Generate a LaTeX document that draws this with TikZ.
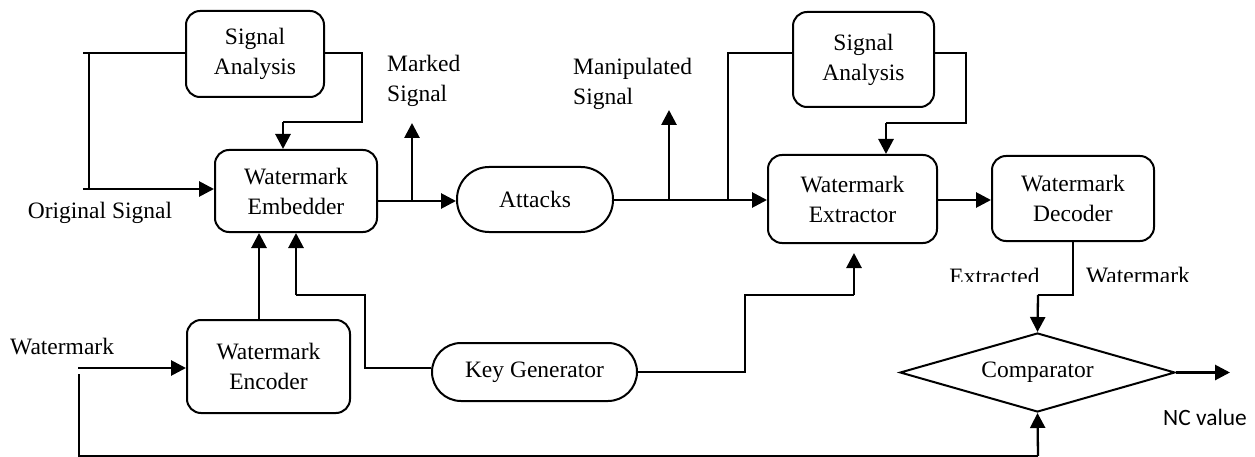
\documentclass[tikz,border=0pt]{standalone}
\usepackage{fontspec}
\setmainfont{Liberation Serif}
\newfontfamily\ncfont{Carlito}
\usetikzlibrary{arrows.meta,shapes.geometric}
\begin{document}
\begin{tikzpicture}[x=1pt,y=-1pt,
  txt/.style={font=\fontsize{23.5}{30}\selectfont},
  box/.style={draw, line width=2pt, rounded corners=14pt, inner sep=0pt, align=center, txt},
  pill/.style={draw, line width=2pt, rounded corners=#1, inner sep=0pt, align=center, txt},
  conn/.style={line width=2.8pt},
  thin/.style={line width=2.3pt},
  arr/.style={conn, -{Triangle[length=15pt,width=15pt]}},
  lbl/.style={inner sep=0pt, txt, align=left}
]
\useasboundingbox (0,0) rectangle (1255,457);

% nodes
\node[box, minimum width=138pt, minimum height=86pt] (sa1) at (255,54) {Signal\\Analysis};
\node[box, minimum width=162pt, minimum height=82pt] (emb) at (296,191) {Watermark\\Embedder};
\node[pill=32pt, minimum width=156pt, minimum height=65pt] (att) at (535,199.5) {Attacks};
\node[box, minimum width=141pt, minimum height=95pt] (sa2) at (863.5,59.5) {Signal\\Analysis};
\node[box, minimum width=169pt, minimum height=88pt] (ext) at (852.5,199) {Watermark\\Extractor};
\node[box, minimum width=162pt, minimum height=85pt] (dec) at (1073,198.5) {Watermark\\Decoder};
\node[box, minimum width=163pt, minimum height=93pt] (enc) at (268.5,366.5) {Watermark\\Encoder};
\node[pill=29pt, minimum width=205pt, minimum height=58pt] (key) at (534.5,372) {Key Generator};
\node[draw, diamond, line width=2pt, inner sep=0pt, aspect=3.48, minimum width=275pt, minimum height=79pt, txt] (cmp) at (1037.5,372.5) {Comparator};

% labels
\node[lbl] (lorig) at (100,213) {Original Signal};
\node[lbl, anchor=west] (lmark) at (387,81) {Marked\\Signal};
\node[lbl, anchor=west] (lmanip) at (573,84) {Manipulated\\Signal};
\node[lbl, anchor=west] (lwm) at (10,347) {Watermark};
\node[inner sep=0pt, font=\ncfont\fontsize{23.4}{28}\selectfont] (lnc) at (1205,417) {NC value};
\begin{scope}
\clip (930,255) rectangle (1210,281);
\node[lbl] (lextr) at (994.5,276) {Extracted};
\node[lbl] (lwm2) at (1138,276) {Watermark};
\end{scope}

% coordinates
\coordinate (o1) at (83,53);
\coordinate (j1) at (89,53);
\coordinate (j2) at (89,189);
\coordinate (o2) at (83,189);
\coordinate (r1) at (362,53);
\coordinate (r2) at (362,122);
\coordinate (r3) at (283,122);
\coordinate (m1) at (412,201);
\coordinate (m2) at (412,123);
\coordinate (a1) at (669,200);
\coordinate (a2) at (669,110);
\coordinate (b1) at (728,200);
\coordinate (b2) at (728,53);
\coordinate (s1) at (966,53);
\coordinate (s2) at (966,123);
\coordinate (s3) at (886,123);
\coordinate (e1) at (0,200);
\coordinate (d1) at (1073,295);
\coordinate (d2) at (1038,295);
\coordinate (n1) at (1230,372.5);
\coordinate (w1) at (78,368);
\coordinate (w2) at (79,374);
\coordinate (w3) at (79,456);
\coordinate (w4) at (1038,456);
\coordinate (k1) at (365,368);
\coordinate (k2) at (365,295);
\coordinate (k3) at (296,295);
\coordinate (g1) at (745,372);
\coordinate (g2) at (745,295);
\coordinate (g3) at (854,295);
\coordinate (g4) at (854,253);

% connectors
\draw[conn] (o1) -- (o1 -| sa1.west);
\draw[conn] (j1) -- (j2);
\draw[arr] (o2) -- (o2 -| emb.west);
\draw[conn] (r1 -| sa1.east) -- (r1) -- (r2) -- (r3);
\draw[arr] (r3) -- (r3 |- emb.north);
\draw[arr] (m1 -| emb.east) -- (m1 -| att.west);
\draw[arr] (m1) -- (m2);
\draw[arr] (a1 -| att.east) -- (a1 -| ext.west);
\draw[arr] (a1) -- (a2);
\draw[conn] (b1) -- (b2) -- (b2 -| sa2.west);
\draw[conn] (s1 -| sa2.east) -- (s1) -- (s2) -- (s3);
\draw[arr] (s3) -- (s3 |- ext.north);
\draw[arr] (e1 -| ext.east) -- (e1 -| dec.west);
\draw[thin] (dec.south) -- (d1) -- (d2);
\draw[arr, thin] (d2) -- (cmp.north);
\draw[arr] (cmp.east) -- (n1);
\draw[arr] (w1) -- (w1 -| enc.west);
\draw[thin] (w2) -- (w3) -- (w4);
\draw[arr, thin] (w4) -- (cmp.south);
\draw[arr] (enc.north -| 259,0) -- (emb.south -| 259,0);
\draw[thin] (k1 -| key.west) -- (k1) -- (k2) -- (k3);
\draw[arr] (k3) -- (k3 |- emb.south);
\draw[thin] (key.east) -- (g1) -- (g2) -- (g3);
\draw[arr] (g3) -- (g4);
\end{tikzpicture}
\end{document}
